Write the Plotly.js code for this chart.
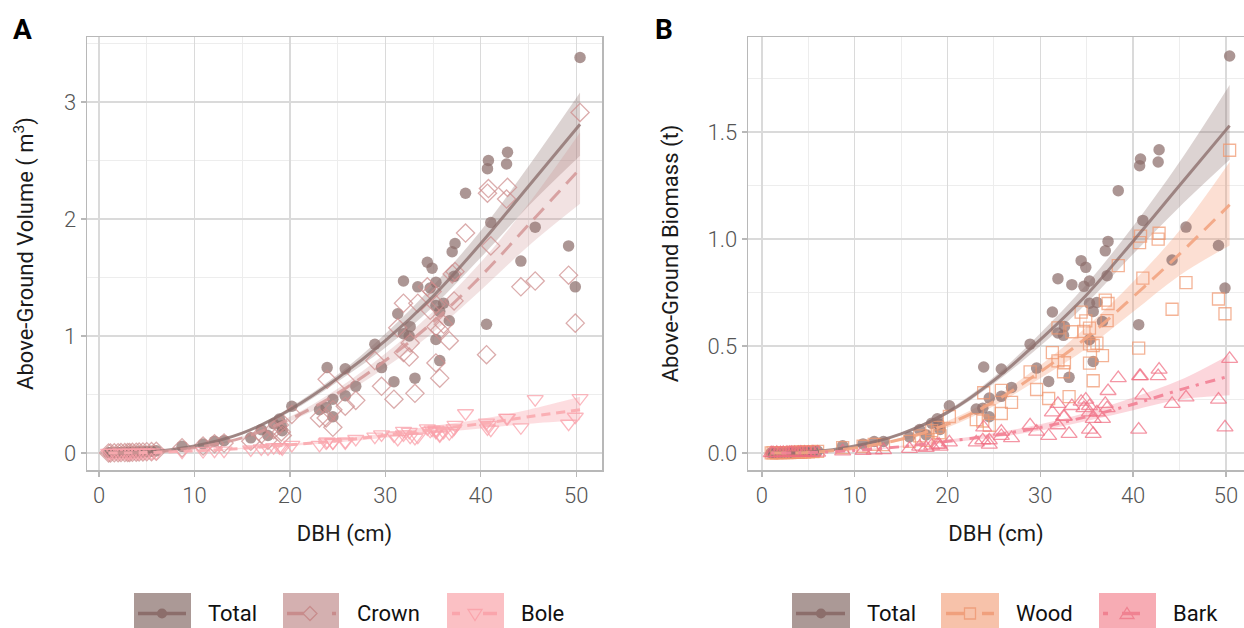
<!DOCTYPE html>
<html>
<head>
<meta charset="utf-8">
<script src="https://cdn.plot.ly/plotly-3.0.1.min.js"></script>
<style>
html,body{margin:0;padding:0;background:#fff;}
#chart{width:1244px;height:628px;}
</style>
</head>
<body>
<div id="chart"></div>
<script>
// ---------- Tree observations (DBH in cm) ----------
const dbh = [1.0,1.2,1.6,2.0,2.3,2.7,3.0,3.2,3.5,3.9,4.2,4.6,5.0,5.5,6.0,
  8.7,10.9,12.1,13.1,15.9,17.0,17.7,18.3,18.9,19.1,19.2,
  20.2,23.1,23.8,23.9,24.5,24.5,25.8,25.8,26.9,28.9,29.6,30.9,31.3,31.9,31.9,32.5,32.6,33.1,33.4,34.4,34.7,34.9,35.3,35.3,35.3,35.7,35.7,36.1,36.7,37.0,37.2,37.3,38.4,40.6,40.7,40.8,41.05,42.7,42.8,44.2,45.7,49.2,49.9,50.4];

// Panel A: above-ground volume (m3)
const volTotal = [0.002,0.002,0.003,0.004,0.005,0.006,0.006,0.007,0.008,0.009,0.011,0.012,0.014,0.016,0.019,
  0.057,0.077,0.100,0.106,0.13,0.20,0.15,0.25,0.29,0.23,0.19,
  0.40,0.37,0.39,0.73,0.46,0.31,0.72,0.49,0.57,0.93,0.73,0.61,1.19,1.47,1.02,1.00,1.08,0.64,1.42,1.63,1.41,1.58,1.46,1.26,0.97,1.21,0.79,1.28,1.13,1.72,1.51,1.79,2.22,1.10,2.43,2.50,1.97,2.47,2.57,1.64,1.93,1.77,1.42,3.38];
const volCrown = [0.001,0.001,0.002,0.003,0.004,0.004,0.005,0.005,0.006,0.007,0.008,0.009,0.011,0.012,0.015,
  0.045,0.060,0.080,0.085,0.10,0.16,0.11,0.20,0.24,0.18,0.15,
  0.33,0.30,0.30,0.63,0.37,0.22,0.62,0.40,0.45,0.79,0.57,0.46,1.07,1.28,0.86,0.82,0.94,0.51,1.28,1.42,1.22,1.38,1.27,1.08,0.77,1.05,0.64,1.10,0.96,1.53,1.30,1.55,1.88,0.84,2.22,2.26,1.77,2.17,2.27,1.42,1.47,1.52,1.11,2.91];
const volBole = [0.001,0.001,0.001,0.001,0.001,0.002,0.001,0.002,0.002,0.002,0.003,0.003,0.003,0.004,0.004,
  0.012,0.017,0.020,0.021,0.03,0.04,0.04,0.05,0.05,0.05,0.04,
  0.07,0.07,0.09,0.10,0.09,0.09,0.10,0.09,0.12,0.14,0.16,0.15,0.12,0.19,0.16,0.18,0.14,0.13,0.14,0.21,0.19,0.20,0.19,0.18,0.20,0.16,0.15,0.18,0.17,0.19,0.21,0.24,0.34,0.26,0.21,0.24,0.20,0.30,0.30,0.22,0.46,0.25,0.31,0.47];

// Panel B: above-ground biomass (t)
const bioTotal = [0.001,0.001,0.002,0.002,0.003,0.003,0.003,0.004,0.004,0.005,0.006,0.007,0.008,0.009,0.010,
  0.034,0.043,0.054,0.054,0.075,0.11,0.085,0.14,0.16,0.135,0.11,
  0.221,0.206,0.21,0.402,0.257,0.17,0.393,0.265,0.307,0.509,0.397,0.335,0.659,0.815,0.561,0.55,0.592,0.354,0.787,0.899,0.779,0.868,0.804,0.70,0.53,0.662,0.428,0.704,0.615,0.945,0.829,0.989,1.226,0.60,1.343,1.374,1.087,1.36,1.417,0.902,1.056,0.970,0.771,1.855];
const bioWood = [0.001,0.001,0.001,0.002,0.002,0.002,0.002,0.003,0.003,0.004,0.004,0.005,0.006,0.007,0.008,
  0.026,0.032,0.041,0.040,0.055,0.08,0.06,0.105,0.12,0.095,0.08,
  0.171,0.156,0.15,0.282,0.197,0.13,0.293,0.185,0.237,0.379,0.297,0.255,0.469,0.585,0.431,0.38,0.422,0.264,0.567,0.659,0.569,0.618,0.584,0.51,0.42,0.502,0.338,0.514,0.455,0.715,0.619,0.699,0.876,0.49,0.983,1.014,0.817,1.00,1.027,0.672,0.796,0.72,0.651,1.415];
const bioBark = [0.000,0.000,0.001,0.000,0.001,0.001,0.001,0.001,0.001,0.001,0.002,0.002,0.002,0.002,0.002,
  0.008,0.011,0.013,0.014,0.02,0.03,0.025,0.035,0.04,0.04,0.03,
  0.05,0.05,0.06,0.12,0.06,0.04,0.10,0.08,0.07,0.13,0.10,0.08,0.19,0.23,0.13,0.17,0.17,0.09,0.22,0.24,0.21,0.25,0.22,0.19,0.11,0.16,0.09,0.19,0.16,0.23,0.21,0.29,0.35,0.11,0.36,0.36,0.27,0.36,0.39,0.23,0.26,0.25,0.12,0.44];

// ---------- Fitted curves with confidence bands ----------
const fitDbh = [1,5,10,15,20,25,30,35,40,45,50.4];
const fitVolTotal = [0.0,0.008,0.06,0.17,0.37,0.64,0.96,1.34,1.79,2.28,2.81];
const fitVolTotalHi = [0.0,0.010,0.065,0.18,0.39,0.67,1.02,1.43,1.90,2.45,3.08];
const fitVolTotalLo = [0.0,0.006,0.055,0.16,0.35,0.61,0.90,1.25,1.67,2.11,2.54];
const fitVolCrown = [0.0,0.006,0.045,0.13,0.29,0.51,0.79,1.12,1.51,1.95,2.43];
const fitVolCrownHi = [0.0,0.008,0.05,0.14,0.31,0.55,0.85,1.21,1.63,2.13,2.74];
const fitVolCrownLo = [0.0,0.004,0.04,0.12,0.27,0.47,0.73,1.03,1.39,1.77,2.13];
const fitVolBole = [0.0,0.004,0.018,0.04,0.07,0.105,0.15,0.20,0.25,0.31,0.37];
const fitVolBoleHi = [0.0,0.006,0.022,0.046,0.08,0.12,0.17,0.23,0.29,0.37,0.48];
const fitVolBoleLo = [0.0,0.002,0.014,0.034,0.06,0.09,0.13,0.17,0.21,0.25,0.28];

const fitBioTotal = [0.0,0.004,0.033,0.09,0.19,0.34,0.53,0.74,0.99,1.25,1.53];
const fitBioTotalHi = [0.0,0.005,0.036,0.095,0.20,0.355,0.56,0.79,1.06,1.36,1.72];
const fitBioTotalLo = [0.0,0.003,0.030,0.085,0.18,0.325,0.50,0.70,0.93,1.15,1.37];
const fitBioWood = [0.0,0.003,0.024,0.065,0.135,0.24,0.38,0.54,0.73,0.93,1.16];
const fitBioWoodHi = [0.0,0.004,0.027,0.072,0.15,0.26,0.41,0.59,0.80,1.04,1.36];
const fitBioWoodLo = [0.0,0.002,0.021,0.058,0.12,0.22,0.35,0.49,0.66,0.83,0.97];
const fitBioBark = [0.0,0.002,0.012,0.03,0.055,0.083,0.12,0.17,0.228,0.295,0.36];
const fitBioBarkHi = [0.0,0.003,0.014,0.034,0.062,0.093,0.135,0.19,0.26,0.34,0.46];
const fitBioBarkLo = [0.0,0.001,0.010,0.026,0.048,0.073,0.105,0.15,0.20,0.25,0.27];

// ---------- Series names ----------
const namesA = ['Total','Crown','Bole'];
const namesB = ['Total','Wood','Bark'];

// ---------- Styles ----------
const FONT = 'Roboto, "Open Sans", sans-serif';
const C = {
  total: {fill:'rgba(140,110,107,0.30)', line:'rgba(140,110,107,0.78)', mark:'rgba(140,110,107,0.72)', key:'rgb(171,153,150)', keyLine:'rgb(140,110,107)'},
  crown: {fill:'rgba(205,140,140,0.25)', line:'rgba(212,150,150,0.85)', mark:'rgba(205,140,140,0.72)', key:'rgb(212,176,176)', keyLine:'rgb(200,140,140)'},
  bole:  {fill:'rgba(250,150,160,0.32)', line:'rgba(250,170,176,0.92)', mark:'rgba(250,160,170,0.75)', key:'rgb(251,192,196)', keyLine:'rgb(250,165,172)'},
  wood:  {fill:'rgba(245,150,110,0.30)', line:'rgba(242,165,130,0.92)', mark:'rgba(240,150,110,0.72)', key:'rgb(247,194,170)', keyLine:'rgb(240,160,125)'},
  bark:  {fill:'rgba(245,120,140,0.30)', line:'rgba(242,130,150,0.92)', mark:'rgba(240,110,130,0.72)', key:'rgb(247,172,180)', keyLine:'rgb(240,130,145)'}
};

// confidence band: lower edge (no fill) followed by upper edge filled down to it
function band(x, hi, lo, color, xa, ya){
  return [
    {x:x, y:lo, type:'scatter', mode:'lines', line:{width:0, shape:'spline'},
      hoverinfo:'skip', showlegend:false, xaxis:xa, yaxis:ya},
    {x:x, y:hi, type:'scatter', mode:'lines', fill:'tonexty', fillcolor:color,
      line:{width:0, shape:'spline'}, hoverinfo:'skip', showlegend:false, xaxis:xa, yaxis:ya}
  ];
}
function pts(x, y, sym, size, color, lw, xa, ya, name){
  return {x:x, y:y, type:'scatter', mode:'markers', name:name, showlegend:false,
    marker:{symbol:sym, size:size, color:color, line:{width:lw, color:color}}, xaxis:xa, yaxis:ya};
}
function curve(x, y, color, dash, xa, ya, name){
  return {x:x, y:y, type:'scatter', mode:'lines', name:name, showlegend:false,
    line:{color:color, width:3, dash:dash, shape:'spline'}, xaxis:xa, yaxis:ya};
}

const traces = [].concat(
  band(fitDbh, fitVolTotalHi, fitVolTotalLo, C.total.fill, 'x', 'y'),
  band(fitDbh, fitVolCrownHi, fitVolCrownLo, C.crown.fill, 'x', 'y'),
  band(fitDbh, fitVolBoleHi, fitVolBoleLo, C.bole.fill, 'x', 'y'),
  [
    pts(dbh, volTotal, 'circle', 11.5, C.total.mark, 0, 'x', 'y', namesA[0]),
    pts(dbh, volCrown, 'diamond-open', 14, C.crown.mark, 1.3, 'x', 'y', namesA[1]),
    pts(dbh, volBole, 'triangle-down-open', 14, C.bole.mark, 1.3, 'x', 'y', namesA[2]),
    curve(fitDbh, fitVolTotal, C.total.line, 'solid', 'x', 'y', namesA[0]),
    curve(fitDbh, fitVolCrown, C.crown.line, '15px,9px', 'x', 'y', namesA[1]),
    curve(fitDbh, fitVolBole, C.bole.line, '9px,6px', 'x', 'y', namesA[2])
  ],
  band(fitDbh, fitBioTotalHi, fitBioTotalLo, C.total.fill, 'x2', 'y2'),
  band(fitDbh, fitBioWoodHi, fitBioWoodLo, C.wood.fill, 'x2', 'y2'),
  band(fitDbh, fitBioBarkHi, fitBioBarkLo, C.bark.fill, 'x2', 'y2'),
  [
    pts(dbh, bioTotal, 'circle', 11.5, C.total.mark, 0, 'x2', 'y2', namesB[0]),
    pts(dbh, bioWood, 'square-open', 12, C.wood.mark, 1.3, 'x2', 'y2', namesB[1]),
    pts(dbh, bioBark, 'triangle-up-open', 14, C.bark.mark, 1.3, 'x2', 'y2', namesB[2]),
    curve(fitDbh, fitBioTotal, C.total.line, 'solid', 'x2', 'y2', namesB[0]),
    curve(fitDbh, fitBioWood, C.wood.line, '15px,9px', 'x2', 'y2', namesB[1]),
    curve(fitDbh, fitBioBark, C.bark.line, '3px,7px,10px,7px', 'x2', 'y2', namesB[2])
  ]
);

// ---------- Layout geometry (pixel helpers for legend/labels) ----------
const W = 1244, H = 628, ML = 87, MR = 0, MT = 37, MB = 158;
const PW = W - ML - MR, PH = H - MT - MB;
const X = px => (px - ML) / PW;
const Y = py => (H - MB - py) / PH;

const tickFont = {family: FONT, size: 22, color: '#555555', weight: 300};
const titleFont = {family: FONT, size: 22, color: '#1a1a1a'};
const gridMajor = '#dadada', gridMinor = '#ededed', frame = '#b8b8b8';

function axisBase(){
  return {showgrid:true, gridcolor:gridMajor, gridwidth:1.3, zeroline:false,
    showline:true, linecolor:frame, linewidth:1.5, ticks:'outside', ticklen:5,
    tickcolor:frame, tickwidth:1.3, tickfont:tickFont};
}

const layout = {
  width: W, height: H,
  margin: {l: ML, r: MR, t: MT, b: MB},
  paper_bgcolor: '#ffffff', plot_bgcolor: '#ffffff',
  showlegend: false,
  font: {family: FONT},
  xaxis: Object.assign(axisBase(), {domain:[0, X(602)], range:[-1.26, 52.7], tick0:0, dtick:10, mirror:true,
    minor:{tick0:0, dtick:5, showgrid:true, gridcolor:gridMinor, gridwidth:1, ticks:''},
    title:{text:'DBH (cm)', font:titleFont, standoff:18}}),
  yaxis: Object.assign(axisBase(), {domain:[0,1], range:[-0.145, 3.555], tick0:0, dtick:1, mirror:true,
    minor:{tick0:0, dtick:0.5, showgrid:true, gridcolor:gridMinor, gridwidth:1, ticks:''},
    title:{text:'Above-Ground Volume ( m<sup>3</sup>)', font:titleFont, standoff:24}}),
  xaxis2: Object.assign(axisBase(), {domain:[X(748), 1], range:[-1.5, 51.95], tick0:0, dtick:10, mirror:true, anchor:'y2',
    minor:{tick0:0, dtick:5, showgrid:true, gridcolor:gridMinor, gridwidth:1, ticks:''},
    title:{text:'DBH (cm)', font:titleFont, standoff:18}}),
  yaxis2: Object.assign(axisBase(), {domain:[0,1], range:[-0.079, 1.944], tick0:0, dtick:0.5, tickformat:'.1f', mirror:false, anchor:'x2',
    minor:{tick0:0, dtick:0.25, showgrid:true, gridcolor:gridMinor, gridwidth:1, ticks:''},
    title:{text:'Above-Ground Biomass (t)', font:titleFont, standoff:22}}),
  shapes: [],
  annotations: []
};

// ---------- Legends (ggplot-style keys at bottom) ----------
const legY = 613.5;
function keyBox(x0, x1, col){
  layout.shapes.push({type:'rect', xref:'paper', yref:'paper', x0:X(x0), x1:X(x1), y0:Y(593), y1:Y(628),
    fillcolor:col, line:{width:0}, layer:'above'});
}
function keySeg(x0, x1, col){
  layout.shapes.push({type:'line', xref:'paper', yref:'paper', x0:X(x0), x1:X(x1), y0:Y(legY), y1:Y(legY),
    line:{color:col, width:3.5}, layer:'above'});
}
function keyPath(d, col, fill){
  layout.shapes.push({type:'path', xref:'paper', yref:'paper', path:d,
    fillcolor: fill || 'rgba(0,0,0,0)', line:{color:col, width:1.3}, layer:'above'});
}
function P(px, py){ return X(px).toFixed(5) + ',' + Y(py).toFixed(5); }
function circleKey(cx, col){
  layout.shapes.push({type:'circle', xref:'paper', yref:'paper', x0:X(cx-5), x1:X(cx+5), y0:Y(legY+5), y1:Y(legY-5),
    fillcolor:col, line:{width:0}, layer:'above'});
}
function diamondKey(cx, col){ keyPath('M'+P(cx,legY-7)+' L'+P(cx+7,legY)+' L'+P(cx,legY+7)+' L'+P(cx-7,legY)+' Z', col); }
function triDownKey(cx, col){ keyPath('M'+P(cx-7,legY-4)+' L'+P(cx+7,legY-4)+' L'+P(cx,legY+7)+' Z', col); }
function triUpKey(cx, col){ keyPath('M'+P(cx-7,legY+5)+' L'+P(cx+7,legY+5)+' L'+P(cx,legY-6)+' Z', col); }
function squareKey(cx, col){ keyPath('M'+P(cx-5.5,legY-5.5)+' L'+P(cx+5.5,legY-5.5)+' L'+P(cx+5.5,legY+5.5)+' L'+P(cx-5.5,legY+5.5)+' Z', col); }
function keyText(px, txt){
  layout.annotations.push({xref:'paper', yref:'paper', x:X(px), y:Y(legY), text:txt, showarrow:false,
    xanchor:'left', yanchor:'middle', font:{family:FONT, size:22, color:'#111111'}});
}

// Panel A legend
keyBox(134, 191, C.total.key); keySeg(138, 186, C.total.keyLine); circleKey(162, C.total.keyLine); keyText(206, namesA[0]);
keyBox(283, 339, C.crown.key); keySeg(287, 304, C.crown.keyLine); keySeg(332, 336, C.crown.keyLine); diamondKey(310, C.crown.keyLine); keyText(355, namesA[1]);
keyBox(447, 504, C.bole.key); keySeg(452, 460, C.bole.keyLine); keySeg(483, 497, C.bole.keyLine); triDownKey(475, C.bole.keyLine); keyText(519, namesA[2]);
// Panel B legend
keyBox(792, 850, C.total.key); keySeg(796, 845, C.total.keyLine); circleKey(821, C.total.keyLine); keyText(865, namesB[0]);
keyBox(941, 999, C.wood.key); keySeg(946, 964, C.wood.keyLine); keySeg(982, 994, C.wood.keyLine); squareKey(970, C.wood.keyLine); keyText(1014, namesB[1]);
keyBox(1099, 1156, C.bark.key); keySeg(1103, 1108, C.bark.keyLine); keySeg(1122, 1140, C.bark.keyLine); triUpKey(1127, C.bark.keyLine); keyText(1171, namesB[2]);

// Panel tags
layout.annotations.push({xref:'paper', yref:'paper', x:X(11), y:Y(29), text:'<b>A</b>', showarrow:false,
  xanchor:'left', yanchor:'middle', font:{family:FONT, size:28, color:'#000'}});
layout.annotations.push({xref:'paper', yref:'paper', x:X(653), y:Y(29), text:'<b>B</b>', showarrow:false,
  xanchor:'left', yanchor:'middle', font:{family:FONT, size:28, color:'#000'}});

Plotly.newPlot('chart', traces, layout, {displayModeBar:false, staticPlot:true});
</script>
</body>
</html>
